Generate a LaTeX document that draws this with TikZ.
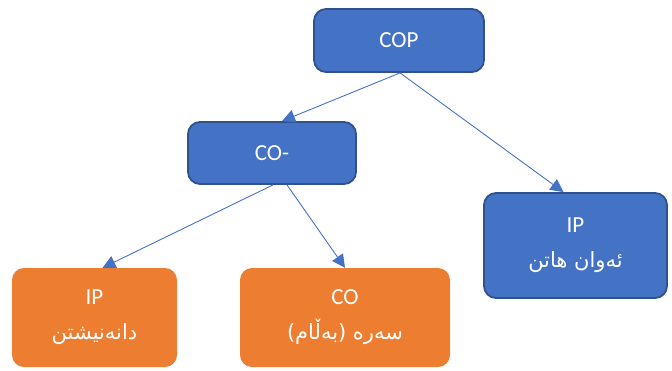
\documentclass[tikz,border=0pt]{standalone}
\usepackage{fontspec}
\setmainfont{Carlito}
\newfontfamily\arabicfont[Script=Arabic]{DejaVu Sans}
\TeXXeTstate=1
\usetikzlibrary{arrows.meta}
\definecolor{bfill}{HTML}{4472C4}
\definecolor{bdraw}{HTML}{2F528F}
\definecolor{ofill}{HTML}{ED7D31}
\newcommand{\ku}[1]{{\arabicfont\fontsize{21}{34}\selectfont\beginR #1\endR}}
\begin{document}
\begin{tikzpicture}[x=1pt,y=-1pt,
  box/.style={rounded corners=12pt, text=white, font=\fontsize{23}{35}\selectfont, align=center, inner sep=0pt},
  bluebox/.style={box, fill=bfill, draw=bdraw, line width=1.8pt},
  orangebox/.style={box, fill=ofill},
  conn/.style={draw=bfill, line width=0.9pt, -{Triangle[length=13pt,width=13pt]}}]
\useasboundingbox (0,0) rectangle (672,370);
\node[bluebox, minimum width=170pt, minimum height=63pt] (cop) at (399,40.5) {COP};
\node[bluebox, minimum width=168pt, minimum height=62pt] (com) at (272,153) {CO-};
\node[bluebox, minimum width=183pt, minimum height=105pt] (ipr) at (575.5,245.5) {IP\\\ku{ئەوان هاتن}};
\node[orangebox, minimum width=165pt, minimum height=99pt] (ipl) at (94.5,317.5) {IP\\\ku{دانەنیشتن}};
\node[orangebox, minimum width=210pt, minimum height=99pt] (co) at (345,317.5) {CO\\\ku{سەرە (بەڵام)}};
\draw[conn] ([xshift=1pt]cop.south) -- ([xshift=10pt]com.north);
\draw[conn] ([xshift=1pt]cop.south) -- ([xshift=-12pt]ipr.north);
\draw[conn] ([xshift=1pt]com.south) -- ([xshift=8pt]ipl.north);
\draw[conn] ([xshift=15pt]com.south) -- ([xshift=0pt]co.north);
\end{tikzpicture}
\end{document}
